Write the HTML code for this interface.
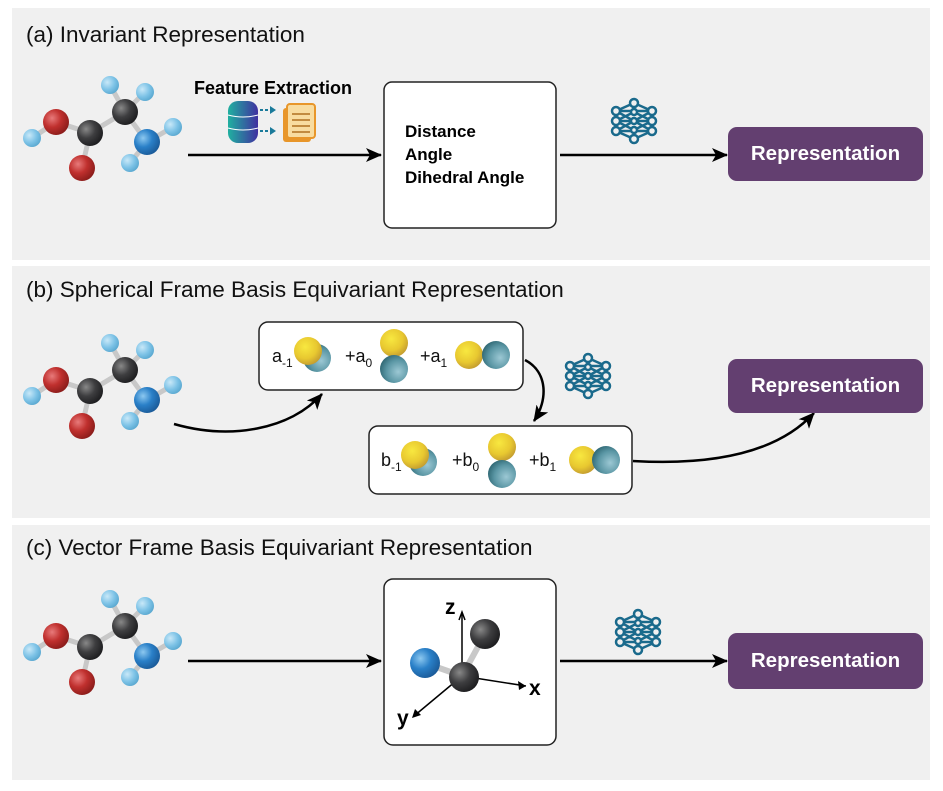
<!DOCTYPE html>
<html><head><meta charset="utf-8"><style>
body{margin:0;background:#fff;}
svg{display:block;font-family:"Liberation Sans",sans-serif;}
</style></head><body>
<svg width="943" height="791" viewBox="0 0 943 791" xmlns="http://www.w3.org/2000/svg">
<defs>
<radialGradient id="gR" cx="0.35" cy="0.35" r="0.7"><stop offset="0" stop-color="#e87a7a"/><stop offset="0.5" stop-color="#c0302e"/><stop offset="1" stop-color="#8a1c1a"/></radialGradient>
<radialGradient id="gK" cx="0.35" cy="0.35" r="0.7"><stop offset="0" stop-color="#888"/><stop offset="0.5" stop-color="#3e3e40"/><stop offset="1" stop-color="#1d1d1f"/></radialGradient>
<radialGradient id="gB" cx="0.35" cy="0.35" r="0.7"><stop offset="0" stop-color="#8cc8f0"/><stop offset="0.5" stop-color="#2a80c8"/><stop offset="1" stop-color="#1a5a98"/></radialGradient>
<radialGradient id="gH" cx="0.35" cy="0.35" r="0.7"><stop offset="0" stop-color="#c8e8f8"/><stop offset="0.6" stop-color="#7cc2e6"/><stop offset="1" stop-color="#5aa8d0"/></radialGradient>
<radialGradient id="gY" cx="0.4" cy="0.35" r="0.7"><stop offset="0" stop-color="#f8e840"/><stop offset="0.6" stop-color="#e8c830"/><stop offset="1" stop-color="#c09830"/></radialGradient>
<radialGradient id="gT" cx="0.65" cy="0.6" r="0.7"><stop offset="0" stop-color="#9cc8d4"/><stop offset="0.6" stop-color="#5a96a4"/><stop offset="1" stop-color="#2c6470"/></radialGradient>
<linearGradient id="gDb" x1="0" x2="1"><stop offset="0" stop-color="#20b0a0"/><stop offset="1" stop-color="#4030a0"/></linearGradient>
<marker id="ar" markerWidth="16" markerHeight="14" refX="15" refY="7" orient="auto" markerUnits="userSpaceOnUse"><path d="M0,0 L16,7 L0,14 L4,7 Z" fill="#000"/></marker>
<g id="mol">
<g stroke="#c8c8c8" stroke-width="5">
<line x1="32" y1="138" x2="56" y2="122"/><line x1="56" y1="122" x2="90" y2="133"/><line x1="90" y1="133" x2="82" y2="168"/><line x1="90" y1="133" x2="125" y2="112"/><line x1="125" y1="112" x2="110" y2="85"/><line x1="125" y1="112" x2="145" y2="92"/><line x1="125" y1="112" x2="147" y2="142"/><line x1="147" y1="142" x2="173" y2="127"/><line x1="147" y1="142" x2="130" y2="163"/>
</g>
<circle cx="32" cy="138" r="9" fill="url(#gH)"/><circle cx="110" cy="85" r="9" fill="url(#gH)"/><circle cx="145" cy="92" r="9" fill="url(#gH)"/><circle cx="173" cy="127" r="9" fill="url(#gH)"/><circle cx="130" cy="163" r="9" fill="url(#gH)"/>
<circle cx="56" cy="122" r="13" fill="url(#gR)"/><circle cx="82" cy="168" r="13" fill="url(#gR)"/>
<circle cx="90" cy="133" r="13" fill="url(#gK)"/><circle cx="125" cy="112" r="13" fill="url(#gK)"/>
<circle cx="147" cy="142" r="13" fill="url(#gB)"/>
</g>
<g id="nn" fill="none" stroke="#1a6a8c" stroke-width="2.5">
<path d="M0,-18 L-18,-10 M0,-18 L18,-10 M0,-18 L0,-9 M-18,-10 L0,0 M18,-10 L0,0 M0,-9 L-18,0 M0,-9 L18,0 M-18,0 L0,9 M18,0 L0,9 M0,0 L-18,10 M0,0 L18,10 M-18,10 L0,18 M18,10 L0,18 M0,9 L0,18 M-18,-10 L18,-10 M-18,0 L18,0 M-18,10 L18,10"/>
<g fill="#f0f0f0"><circle cx="0" cy="-18" r="4"/><circle cx="-18" cy="-10" r="4"/><circle cx="18" cy="-10" r="4"/><circle cx="-18" cy="0" r="4"/><circle cx="18" cy="0" r="4"/><circle cx="-18" cy="10" r="4"/><circle cx="18" cy="10" r="4"/><circle cx="0" cy="18" r="4"/><circle cx="0" cy="-9" r="3"/><circle cx="0" cy="0" r="3"/><circle cx="0" cy="9" r="3"/></g>
</g>
</defs>
<rect x="12" y="8" width="918" height="252" fill="#f0f0f0"/>
<rect x="12" y="266" width="918" height="252" fill="#f0f0f0"/>
<rect x="12" y="525" width="918" height="255" fill="#f0f0f0"/>

<!-- (a) -->
<text x="26" y="42" font-size="22.5" fill="#111">(a) Invariant Representation</text>
<use href="#mol"/>
<text x="273" y="94" font-size="18" font-weight="bold" text-anchor="middle">Feature Extraction</text>
<rect x="228" y="101" width="30" height="42" rx="10" fill="url(#gDb)"/>
<path d="M228,115 q15,4 30,0 M228,128 q15,4 30,0" stroke="#fff" stroke-width="1" fill="none"/>
<path d="M260,110 h10 M260,131 h10" stroke="#1a7a9a" stroke-width="2" stroke-dasharray="3,2"/>
<path d="M270,106 l6,4 -6,4 Z M270,127 l6,4 -6,4Z" fill="#1a7a9a"/>
<rect x="283" y="108" width="28" height="34" rx="3" fill="#e8962a"/>
<rect x="287" y="104" width="28" height="34" rx="3" fill="#f8dca0" stroke="#e8962a" stroke-width="2"/>
<path d="M292,114 h18 M292,120 h18 M292,126 h18 M292,132 h18" stroke="#b07020" stroke-width="1.5"/>
<line x1="188" y1="155" x2="381" y2="155" stroke="#000" stroke-width="2.5" marker-end="url(#ar)"/>
<rect x="384" y="82" width="172" height="146" rx="8" fill="#fff" stroke="#222" stroke-width="1.5"/>
<text font-size="17" font-weight="bold" fill="#000"><tspan x="405" y="137">Distance</tspan><tspan x="405" y="160">Angle</tspan><tspan x="405" y="183">Dihedral Angle</tspan></text>
<line x1="560" y1="155" x2="727" y2="155" stroke="#000" stroke-width="2.5" marker-end="url(#ar)"/>
<use href="#nn" x="634" y="121"/>
<rect x="728" y="127" width="195" height="54" rx="9" fill="#633f70"/>
<text x="825.5" y="160" font-size="20.5" font-weight="bold" fill="#fff" text-anchor="middle">Representation</text>

<!-- (b) -->
<text x="26" y="297" font-size="22.5" fill="#111">(b) Spherical Frame Basis Equivariant Representation</text>
<use href="#mol" y="258"/>
<path d="M174,424 C230,440 290,430 322,394" fill="none" stroke="#000" stroke-width="2.5" marker-end="url(#ar)"/>
<rect x="259" y="322" width="264" height="68" rx="9" fill="#fff" stroke="#222" stroke-width="1.5"/>
<text font-size="18" fill="#111"><tspan x="272" y="362">a</tspan><tspan font-size="12" dy="5">-1</tspan></text>
<circle cx="317" cy="358" r="14" fill="url(#gT)"/><circle cx="308" cy="351" r="14" fill="url(#gY)"/>
<text font-size="18" fill="#111"><tspan x="345" y="362">+a</tspan><tspan font-size="12" dy="5">0</tspan></text>
<circle cx="394" cy="343" r="14" fill="url(#gY)"/><circle cx="394" cy="369" r="14" fill="url(#gT)"/>
<text font-size="18" fill="#111"><tspan x="420" y="362">+a</tspan><tspan font-size="12" dy="5">1</tspan></text>
<circle cx="469" cy="355" r="14" fill="url(#gY)"/><circle cx="496" cy="355" r="14" fill="url(#gT)"/>
<path d="M525,360 C548,372 548,400 534,421" fill="none" stroke="#000" stroke-width="2.5" marker-end="url(#ar)"/>
<use href="#nn" x="588" y="376"/>
<rect x="369" y="426" width="263" height="68" rx="9" fill="#fff" stroke="#222" stroke-width="1.5"/>
<text font-size="18" fill="#111"><tspan x="381" y="466">b</tspan><tspan font-size="12" dy="5">-1</tspan></text>
<circle cx="423" cy="462" r="14" fill="url(#gT)"/><circle cx="415" cy="455" r="14" fill="url(#gY)"/>
<text font-size="18" fill="#111"><tspan x="452" y="466">+b</tspan><tspan font-size="12" dy="5">0</tspan></text>
<circle cx="502" cy="447" r="14" fill="url(#gY)"/><circle cx="502" cy="474" r="14" fill="url(#gT)"/>
<text font-size="18" fill="#111"><tspan x="529" y="466">+b</tspan><tspan font-size="12" dy="5">1</tspan></text>
<circle cx="583" cy="460" r="14" fill="url(#gY)"/><circle cx="606" cy="460" r="14" fill="url(#gT)"/>
<path d="M633,461 C720,466 780,450 814,413" fill="none" stroke="#000" stroke-width="2.5" marker-end="url(#ar)"/>
<rect x="728" y="359" width="195" height="54" rx="9" fill="#633f70"/>
<text x="825.5" y="392" font-size="20.5" font-weight="bold" fill="#fff" text-anchor="middle">Representation</text>

<!-- (c) -->
<text x="26" y="555" font-size="22.5" fill="#111">(c) Vector Frame Basis Equivariant Representation</text>
<use href="#mol" y="514"/>
<line x1="188" y1="661" x2="381" y2="661" stroke="#000" stroke-width="2.5" marker-end="url(#ar)"/>
<rect x="384" y="579" width="172" height="166" rx="9" fill="#fff" stroke="#222" stroke-width="1.5"/>
<g stroke="#000" stroke-width="1.5" fill="none">
<line x1="462" y1="676" x2="462" y2="614"/><path d="M459,620 L462,612 L465,620"/>
<line x1="462" y1="676" x2="526" y2="686"/>
<line x1="462" y1="676" x2="414" y2="716"/>
</g>
<path d="M526,686 l-8,-5 l1,9 Z" fill="#000"/>
<path d="M412,718 l3,-9 l6,6 Z" fill="#000"/>
<line x1="425" y1="663" x2="462" y2="676" stroke="#c8c8c8" stroke-width="6"/>
<line x1="485" y1="634" x2="462" y2="676" stroke="#c8c8c8" stroke-width="6"/>
<circle cx="425" cy="663" r="15" fill="url(#gB)"/>
<circle cx="485" cy="634" r="15" fill="url(#gK)"/>
<circle cx="464" cy="677" r="15" fill="url(#gK)"/>
<text x="445" y="614" font-size="21" font-weight="bold">z</text>
<text x="529" y="695" font-size="21" font-weight="bold">x</text>
<text x="397" y="725" font-size="21" font-weight="bold">y</text>
<line x1="560" y1="661" x2="727" y2="661" stroke="#000" stroke-width="2.5" marker-end="url(#ar)"/>
<use href="#nn" x="638" y="632"/>
<rect x="728" y="633" width="195" height="56" rx="9" fill="#633f70"/>
<text x="825.5" y="667" font-size="20.5" font-weight="bold" fill="#fff" text-anchor="middle">Representation</text>
</svg>
</body></html>
